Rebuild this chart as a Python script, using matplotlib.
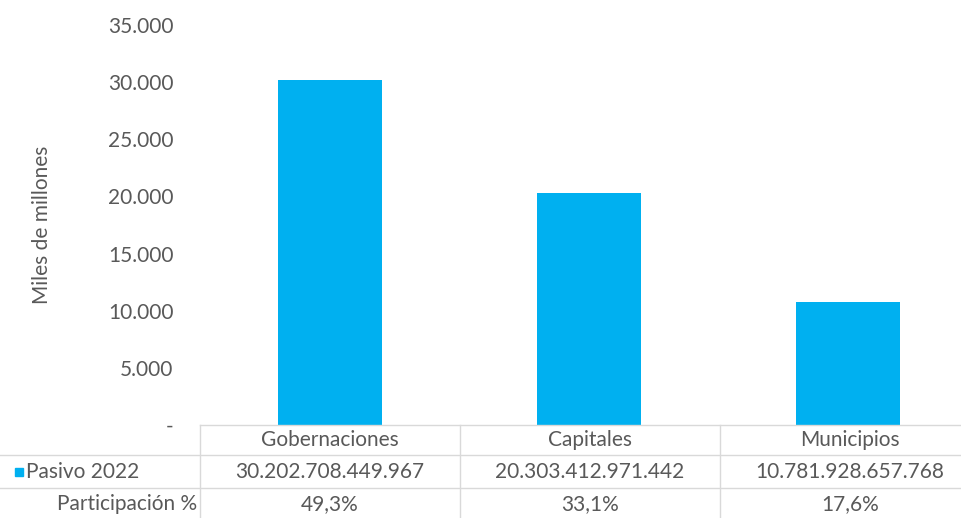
import matplotlib.pyplot as plt
from matplotlib.lines import Line2D
from matplotlib.patches import Rectangle
from matplotlib.ticker import FuncFormatter

# --- DATA ---
categorias = ["Gobernaciones", "Capitales", "Municipios"]
pasivo_2022 = [30202708449967, 20303412971442, 10781928657768]  # pesos
participacion = [49.3, 33.1, 17.6]
serie = "Pasivo 2022"
fila_part = "Participación %"

AZUL = "#00B0F0"
GRIS = "#595959"
BORDE = "#D9D9D9"
W, H = 962, 518
FS = 15

plt.rcParams['font.family'] = ['Lato', 'DejaVu Sans']


def miles(v):
    return f"{v:,.0f}".replace(",", ".")


fig = plt.figure(figsize=(W / 100, H / 100), dpi=100)
# axes goes a bit past the right edge, like the original
ax = fig.add_axes([200 / W, 1 - 425 / H, 778 / W, 400 / H])

x = range(len(categorias))
valores = [v / 1e9 for v in pasivo_2022]  # miles de millones
ax.bar(x, valores, width=0.4, color=AZUL)
ax.set_xlim(-0.5, len(categorias) - 0.5)
ax.set_ylim(0, 35000)
ax.set_yticks(range(0, 35001, 5000))
ax.yaxis.set_major_formatter(FuncFormatter(lambda v, p: "-" if v == 0 else miles(v)))
ax.tick_params(axis='y', length=0, pad=19, labelsize=FS, labelcolor=GRIS)
ax.set_xticks([])
for s in ax.spines.values():
    s.set_visible(False)
ax.set_ylabel("Miles de millones", fontsize=FS, color=GRIS)
ax.yaxis.set_label_coords(-0.205 + 11 / 778, 0.5)

# --- TABLA DE DATOS ---
def fx(px):
    return px / W


def fy(py):
    return 1 - py / H


col_w = 260
x0 = 200
for yy, xa in [(425, x0), (455, 0), (488, 0)]:
    fig.add_artist(Line2D([fx(xa), fx(x0 + 3 * col_w)], [fy(yy), fy(yy)], color=BORDE, lw=1))
for i in range(4):
    xv = x0 + i * col_w
    fig.add_artist(Line2D([fx(xv), fx(xv)], [fy(425), fy(520)], color=BORDE, lw=1))

filas = [(440, categorias),
         (472, [miles(v) for v in pasivo_2022]),
         (504, [f"{p:.1f}%".replace(".", ",") for p in participacion])]
for yy, textos in filas:
    for i, t in enumerate(textos):
        fig.text(fx(x0 + (i + 0.5) * col_w), fy(yy), t, ha='center', va='center',
                 fontsize=FS, color=GRIS)

fig.add_artist(Rectangle((fx(15), fy(476)), 8 / W, 8 / H, color=AZUL))
fig.text(fx(26), fy(472), serie, ha='left', va='center', fontsize=FS, color=GRIS)
fig.text(fx(197), fy(504), fila_part, ha='right', va='center', fontsize=FS, color=GRIS)

fig.savefig("out.png", dpi=100)
